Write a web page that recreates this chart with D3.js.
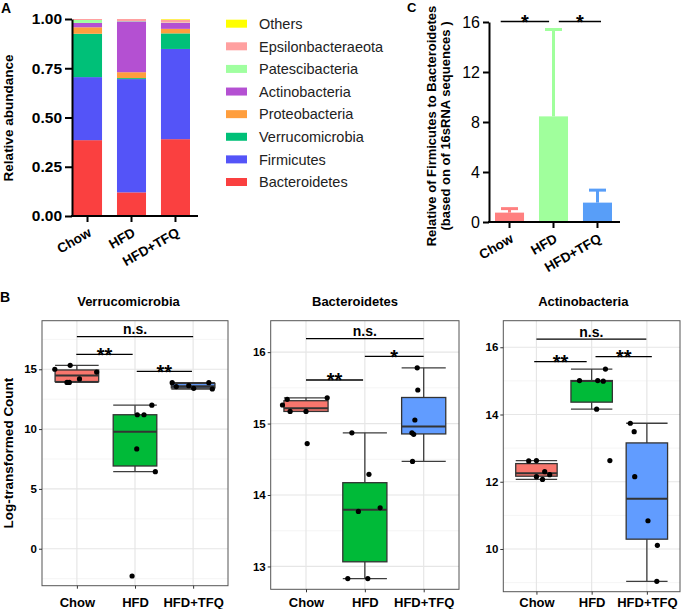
<!DOCTYPE html>
<html><head><meta charset="utf-8">
<script src="https://cdn.jsdelivr.net/npm/d3@7"></script>
<style>
body{margin:0;background:#fff;}
text{font-family:Arial,"Liberation Sans",sans-serif;}
</style>
</head><body>
<svg id="c" width="685" height="609"></svg>
<script>
// ---------------- DATA ----------------
const groups = ["Chow", "HFD", "HFD+TFQ"];

// Panel A: relative abundance (stack order bottom -> top)
const phyla = ["Bacteroidetes","Firmicutes","Verrucomicrobia","Proteobacteria","Actinobacteria","Patescibacteria","Epsilonbacteraeota","Others"];
const abundChow = [0.385, 0.320, 0.220, 0.033, 0.022, 0.015, 0.005, 0.000];
const abundHFD  = [0.120, 0.575, 0.005, 0.030, 0.258, 0.002, 0.010, 0.000];
const abundTFQ  = [0.390, 0.458, 0.079, 0.023, 0.030, 0.002, 0.015, 0.003];
const phylaColors = ["#fa4040","#5454f8","#00c078","#ff9e3d","#b450d2","#a0ffa0","#ffa0a0","#ffff00"];
const abundTicks = [0, 0.25, 0.5, 0.75, 1.0];

// Panel C: Firmicutes / Bacteroidetes ratio (mean, upper error)
const fbMean = [0.75, 8.45, 1.55];
const fbErr  = [0.32, 6.95, 1.00];
const fbColors = ["#ff8080", "#a0ff9c", "#589ef8"];
const fbTicks = [0, 4, 8, 12, 16];
const fbSig = [[0.80, 1.90, 16.05, "*"], [2.12, 3.08, 16.05, "*"]];

// Panel B: log-transformed counts (values) and horizontal jitter (category units)
const verrValues = [[15.00, 15.33, 13.90, 13.90, 14.19, 14.77],
                    [11.20, 11.20, 12.00, 8.34, 6.44, -2.28],
                    [13.88, 13.55, 13.63, 13.41, 13.88, 13.35]];
const verrJitter = [[-0.38, -0.115, -0.17, -0.13, 0.045, 0.34],
                    [0.04, 0.155, 0.29, 0.03, 0.35, -0.05],
                    [-0.36, -0.29, -0.075, 0.01, 0.27, 0.33]];
const verrTicks = [0, 5, 10, 15];
const verrSig = [[1, 3, 17.73, "n.s."], [0.99, 1.96, 16.25, "**"], [2.03, 2.98, 14.83, "**"]];

const bactValues = [[15.26, 15.34, 15.17, 15.17, 15.36, 14.72],
                    [14.87, 14.29, 13.77, 13.82, 12.83, 12.83],
                    [15.78, 15.47, 15.05, 14.87, 14.85, 14.47]];
const bactJitter = [[-0.40, -0.32, -0.27, 0.0, 0.36, 0.02],
                    [-0.22, 0.07, -0.11, 0.26, -0.29, 0.05],
                    [-0.11, -0.10, -0.15, -0.20, -0.17, -0.19]];
const bactTicks = [13, 14, 15, 16];
const bactSig = [[1, 3, 16.19, "n.s."], [2, 3, 15.94, "*"], [1, 1.97, 15.61, "**"]];

const actiValues = [[12.62, 12.63, 12.30, 12.21, 12.15, 12.07],
                    [15.01, 15.01, 14.99, 15.35, 14.16, 12.63],
                    [13.74, 13.49, 12.15, 10.84, 10.11, 9.04]];
const actiJitter = [[-0.14, 0.0, 0.15, 0.24, 0.0, 0.11],
                    [-0.22, 0.11, 0.21, 0.25, 0.09, 0.33],
                    [-0.30, -0.23, -0.22, 0.02, 0.19, 0.18]];
const actiTicks = [10, 12, 14, 16];
const actiSig = [[1, 2.99, 16.24, "n.s."], [0.96, 1.91, 15.57, "**"], [2.07, 3.09, 15.72, "**"]];

const boxFills = ["#f8766d", "#00ba38", "#619cff"];

// ---------------- DRAW ----------------
const svg = d3.select("#c");

// Panel labels
svg.append("text").attr("x", 1).attr("y", 13).attr("font-size", 14).attr("font-weight", "bold").text("A");
svg.append("text").attr("x", 407).attr("y", 12).attr("font-size", 13).attr("font-weight", "bold").text("C");
svg.append("text").attr("x", 0).attr("y", 302).attr("font-size", 14).attr("font-weight", "bold").text("B");

// ===== Panel A =====
{
  const g = svg.append("g");
  const x = d3.scaleBand().domain(groups).range([73, 190]).paddingInner(0.34).paddingOuter(0);
  const y = d3.scaleLinear([0, 1], [216, 19]);
  const abund = [abundChow, abundHFD, abundTFQ];
  const rows = groups.map((grp, i) => { const o = {group: grp}; phyla.forEach((p, j) => o[p] = abund[i][j]); return o; });
  const series = d3.stack().keys(phyla)(rows);
  g.selectAll("g.s").data(series).join("g").attr("fill", (d, i) => phylaColors[i])
    .selectAll("rect").data(d => d).join("rect")
    .attr("x", d => x(d.data.group)).attr("width", x.bandwidth())
    .attr("y", d => y(d[1])).attr("height", d => Math.max(0, y(d[0]) - y(d[1])));

  const ya = g.append("g").attr("transform", "translate(72,0)")
    .call(d3.axisLeft(y).tickValues(abundTicks).tickFormat(d3.format(".2f")).tickSize(7).tickSizeOuter(0));
  ya.select(".domain").attr("stroke", "#000").attr("stroke-width", 2);
  ya.selectAll(".tick line").attr("stroke", "#000").attr("stroke-width", 2);
  ya.selectAll(".tick text").attr("font-size", 15.5).attr("font-weight", "bold").attr("fill", "#000").attr("x", -10)
    .attr("font-family", "Arial, 'Liberation Sans', sans-serif");

  const xa = g.append("g").attr("transform", "translate(0,216)")
    .call(d3.axisBottom(x).tickSize(6).tickSizeOuter(0));
  xa.select(".domain").remove();
  xa.append("line").attr("x1", 71).attr("x2", 198).attr("stroke", "#000").attr("stroke-width", 2);
  xa.selectAll(".tick line").attr("stroke", "#000").attr("stroke-width", 2);
  xa.selectAll(".tick text").attr("font-size", 13.5).attr("font-weight", "bold").attr("fill", "#000")
    .attr("font-family", "Arial, 'Liberation Sans', sans-serif")
    .attr("x", 0).attr("y", 0).attr("dy", "0.71em").attr("text-anchor", "end")
    .attr("transform", "translate(0,11) rotate(-30)");

  g.append("text").attr("transform", "translate(13,118) rotate(-90)").attr("text-anchor", "middle")
    .attr("font-size", 13.5).attr("font-weight", "bold").text("Relative abundance");

  // legend
  const ly = d3.scalePoint().domain(phyla.slice().reverse()).range([23.7, 182]);
  const lg = g.append("g");
  phyla.forEach((p, i) => {
    lg.append("rect").attr("x", 226).attr("y", ly(p) - 4).attr("width", 21).attr("height", 8).attr("fill", phylaColors[i]);
    lg.append("text").attr("x", 259).attr("y", ly(p)).attr("dy", "0.36em").attr("font-size", 14.5).attr("fill", "#222").text(p);
  });
}

// ===== Panel C =====
{
  const g = svg.append("g");
  const x = d3.scaleBand().domain(groups).range([495, 612]).paddingInner(0.34).paddingOuter(0);
  const y = d3.scaleLinear([0, 16], [222, 22]);
  const bw = x.bandwidth();
  const step = x.step();
  const cx = v => x(groups[0]) + bw / 2 + (v - 1) * step;

  groups.forEach((grp, i) => {
    const xc = x(grp) + bw / 2;
    g.append("line").attr("x1", xc).attr("x2", xc).attr("y1", y(fbMean[i])).attr("y2", y(fbMean[i] + fbErr[i]))
      .attr("stroke", fbColors[i]).attr("stroke-width", 3);
    g.append("line").attr("x1", xc - 8.5).attr("x2", xc + 8.5).attr("y1", y(fbMean[i] + fbErr[i])).attr("y2", y(fbMean[i] + fbErr[i]))
      .attr("stroke", fbColors[i]).attr("stroke-width", 3);
    g.append("rect").attr("x", x(grp)).attr("width", bw).attr("y", y(fbMean[i])).attr("height", y(0) - y(fbMean[i]))
      .attr("fill", fbColors[i]);
  });

  const ya = g.append("g").attr("transform", "translate(489,0)")
    .call(d3.axisLeft(y).tickValues(fbTicks).tickSize(6).tickSizeOuter(0));
  ya.select(".domain").attr("stroke", "#000").attr("stroke-width", 2);
  ya.selectAll(".tick line").attr("stroke", "#000").attr("stroke-width", 2);
  ya.selectAll(".tick text").attr("font-size", 16).attr("fill", "#000").attr("x", -9)
    .attr("font-family", "Arial, 'Liberation Sans', sans-serif");

  const xa = g.append("g").attr("transform", "translate(0,222)")
    .call(d3.axisBottom(x).tickSize(6).tickSizeOuter(0));
  xa.select(".domain").remove();
  xa.append("line").attr("x1", 488).attr("x2", 620).attr("stroke", "#000").attr("stroke-width", 2);
  xa.selectAll(".tick line").attr("stroke", "#000").attr("stroke-width", 2);
  xa.selectAll(".tick text").attr("font-size", 13.5).attr("font-weight", "bold").attr("fill", "#000")
    .attr("font-family", "Arial, 'Liberation Sans', sans-serif")
    .attr("x", 0).attr("y", 0).attr("dy", "0.71em").attr("text-anchor", "end")
    .attr("transform", "translate(0,11) rotate(-30)");

  fbSig.forEach(([a, b, v, lab]) => {
    g.append("line").attr("x1", cx(a)).attr("x2", cx(b)).attr("y1", y(v)).attr("y2", y(v)).attr("stroke", "#000").attr("stroke-width", 1.5);
    g.append("text").attr("x", (cx(a) + cx(b)) / 2).attr("y", y(v) + 8).attr("text-anchor", "middle")
      .attr("font-size", 20).attr("font-weight", "bold").text(lab);
  });

  const t = g.append("text").attr("transform", "translate(436,126) rotate(-90)").attr("text-anchor", "middle")
    .attr("font-size", 13).attr("font-weight", "bold");
  t.append("tspan").attr("x", 0).attr("dy", 0).text("Relative of Firmicutes to Bacteroidetes");
  t.append("tspan").attr("x", 0).attr("dy", 14).text("(based on of 16sRNA sequences )");
}

// ===== Panel B =====
function boxPanel(cfg) {
  const g = svg.append("g");
  const x = d3.scaleLinear([0.4, 3.6], [cfg.left, cfg.right]);
  const y = d3.scaleLinear(cfg.domain, [cfg.bottom, cfg.top]);
  const unit = x(2) - x(1);
  const half = 0.375 * unit;

  g.append("rect").attr("x", cfg.left).attr("y", cfg.top).attr("width", cfg.right - cfg.left).attr("height", cfg.bottom - cfg.top).attr("fill", "#fff");

  // grid
  const t = cfg.ticks.slice().sort(d3.ascending);
  const s = t[1] - t[0];
  const minor = [];
  for (let v = t[0] - s * Math.ceil((t[0] - cfg.domain[0]) / s) - s / 2; v <= cfg.domain[1]; v += s) if (v >= cfg.domain[0]) minor.push(v);
  g.selectAll("line.mn").data(minor).join("line").attr("x1", cfg.left).attr("x2", cfg.right)
    .attr("y1", d => y(d)).attr("y2", d => y(d)).attr("stroke", "#f2f2f2").attr("stroke-width", 0.8);
  g.selectAll("line.mj").data(t).join("line").attr("x1", cfg.left).attr("x2", cfg.right)
    .attr("y1", d => y(d)).attr("y2", d => y(d)).attr("stroke", "#e6e6e6").attr("stroke-width", 1.2);
  g.selectAll("line.mx").data([1, 2, 3]).join("line").attr("y1", cfg.top).attr("y2", cfg.bottom)
    .attr("x1", d => x(d)).attr("x2", d => x(d)).attr("stroke", "#e6e6e6").attr("stroke-width", 1.2);

  cfg.values.forEach((vals, i) => {
    const sv = vals.slice().sort(d3.ascending);
    const q1 = d3.quantile(sv, 0.25), md = d3.quantile(sv, 0.5), q3 = d3.quantile(sv, 0.75);
    const iqr = q3 - q1;
    const lo = d3.min(sv.filter(v => v >= q1 - 1.5 * iqr));
    const hi = d3.max(sv.filter(v => v <= q3 + 1.5 * iqr));
    const xc = x(i + 1);
    const wc = "#3d3d3d";
    g.append("line").attr("x1", xc).attr("x2", xc).attr("y1", y(q3)).attr("y2", y(hi)).attr("stroke", wc).attr("stroke-width", 1.3);
    g.append("line").attr("x1", xc).attr("x2", xc).attr("y1", y(q1)).attr("y2", y(lo)).attr("stroke", wc).attr("stroke-width", 1.3);
    [lo, hi].forEach(v => g.append("line").attr("x1", xc - half).attr("x2", xc + half).attr("y1", y(v)).attr("y2", y(v)).attr("stroke", wc).attr("stroke-width", 1.3));
    g.append("rect").attr("x", xc - half).attr("width", 2 * half).attr("y", y(q3)).attr("height", y(q1) - y(q3))
      .attr("fill", boxFills[i]).attr("stroke", "#333").attr("stroke-width", 1.3);
    g.append("line").attr("x1", xc - half).attr("x2", xc + half).attr("y1", y(md)).attr("y2", y(md)).attr("stroke", "#333").attr("stroke-width", 2);
    vals.forEach((v, k) => g.append("circle").attr("cx", x(i + 1 + cfg.jitter[i][k])).attr("cy", y(v)).attr("r", 2.6).attr("fill", "#000"));
  });

  g.append("rect").attr("x", cfg.left).attr("y", cfg.top).attr("width", cfg.right - cfg.left).attr("height", cfg.bottom - cfg.top)
    .attr("fill", "none").attr("stroke", "#555").attr("stroke-width", 1);

  // axes
  const ya = g.append("g").attr("transform", `translate(${cfg.left},0)`)
    .call(d3.axisLeft(y).tickValues(cfg.ticks).tickSize(3).tickSizeOuter(0).tickFormat(d3.format("d")));
  ya.select(".domain").remove();
  ya.selectAll(".tick line").attr("stroke", "#333");
  ya.selectAll(".tick text").attr("font-size", 11.5).attr("font-weight", "bold").attr("fill", "#000").attr("x", -5)
    .attr("font-family", "Arial, 'Liberation Sans', sans-serif");
  const xa = g.append("g").attr("transform", `translate(0,${cfg.bottom})`)
    .call(d3.axisBottom(x).tickValues([1, 2, 3]).tickSize(3).tickSizeOuter(0).tickFormat(d => groups[d - 1]));
  xa.select(".domain").remove();
  xa.selectAll(".tick line").attr("stroke", "#333");
  xa.selectAll(".tick text").attr("font-size", 13).attr("font-weight", "bold").attr("fill", "#000")
    .attr("font-family", "Arial, 'Liberation Sans', sans-serif")
    .attr("y", 607 - cfg.bottom).attr("dy", 0);

  g.append("text").attr("x", cfg.titleX).attr("y", 306).attr("text-anchor", "middle").attr("font-size", 13).attr("font-weight", "bold").text(cfg.title);

  cfg.sig.forEach(([a, b, v, lab]) => {
    g.append("line").attr("x1", x(a)).attr("x2", x(b)).attr("y1", y(v)).attr("y2", y(v)).attr("stroke", "#000").attr("stroke-width", 1.3);
    const star = lab.indexOf("*") >= 0;
    g.append("text").attr("x", (x(a) + x(b)) / 2).attr("y", star ? y(v) + 7.5 : y(v) - 2.5).attr("text-anchor", "middle")
      .attr("font-size", star ? 20 : 14).attr("font-weight", "bold").text(lab);
  });
}

boxPanel({left: 42, right: 228, top: 320.7, bottom: 585.7, domain: [-3.09, 19.06], ticks: verrTicks,
  values: verrValues, jitter: verrJitter, sig: verrSig, title: "Verrucomicrobia", titleX: 128.5});
boxPanel({left: 270.7, right: 459, top: 320.7, bottom: 589.3, domain: [12.68, 16.44], ticks: bactTicks,
  values: bactValues, jitter: bactJitter, sig: bactSig, title: "Bacteroidetes", titleX: 355});
boxPanel({left: 503.3, right: 680, top: 320.7, bottom: 591.7, domain: [8.73, 16.79], ticks: actiTicks,
  values: actiValues, jitter: actiJitter, sig: actiSig, title: "Actinobacteria", titleX: 583.3});

svg.append("text").attr("transform", "translate(13,453) rotate(-90)").attr("text-anchor", "middle")
  .attr("font-size", 13.5).attr("font-weight", "bold").text("Log-transformed Count");
</script>
</body></html>
